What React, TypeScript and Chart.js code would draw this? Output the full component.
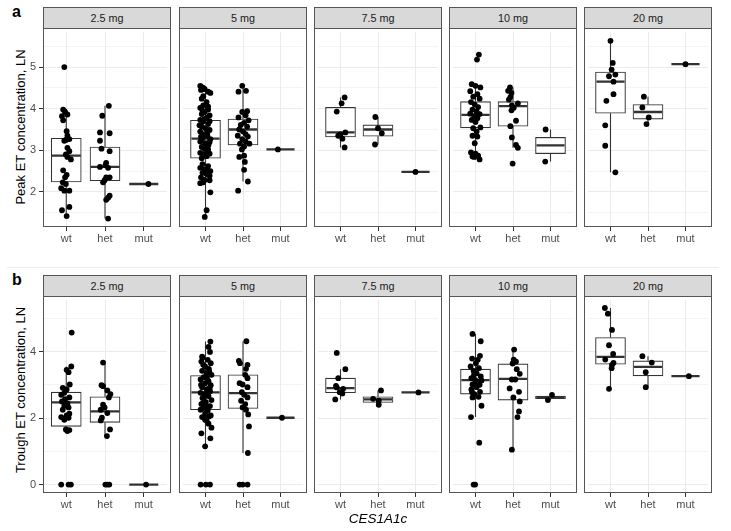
import React, { useEffect, useRef } from 'react';
import { Chart, registerables } from 'chart.js';

Chart.register(...registerables);

type Pt = [number, number]; // [horizontal jitter in category units, value]
type Box = [number, number, number, number, number]; // [whisker low, q1, median, q3, whisker high]

const DOSES = ['2.5 mg', '5 mg', '7.5 mg', '10 mg', '20 mg'];
const GENOTYPES = ['wt', 'het', 'mut'];
const X_AXIS_TITLE = 'CES1A1c';
const PEAK_TITLE = 'Peak ET concentration, LN';
const TROUGH_TITLE = 'Trough ET concentration, LN';

const PEAK_TICK_LABELS = [2, 3, 4, 5];
const TROUGH_TICK_LABELS = [0, 2, 4];
const PEAK_RANGE = [1.157, 5.843];
const TROUGH_RANGE = [-0.253, 5.55];
const PEAK_STEP = 0.5;
const TROUGH_STEP = 1;

// box statistics per dose, per genotype (wt, het, mut)
const PEAK_BOX: Box[][] = [
  [[1.42, 2.24, 2.87, 3.29, 4.0], [1.36, 2.27, 2.6, 3.08, 4.07], [2.19, 2.19, 2.19, 2.19, 2.19]],
  [[1.4, 2.81, 3.28, 3.72, 4.55], [2.25, 3.13, 3.5, 3.75, 4.55], [3.02, 3.02, 3.02, 3.02, 3.02]],
  [[3.07, 3.32, 3.43, 4.03, 4.27], [3.14, 3.34, 3.5, 3.61, 3.8], [2.48, 2.48, 2.48, 2.48, 2.48]],
  [[2.78, 3.54, 3.85, 4.17, 4.59], [3.06, 3.58, 4.06, 4.17, 4.51], [2.73, 2.92, 3.12, 3.31, 3.5]],
  [[2.47, 3.89, 4.65, 4.88, 5.63], [3.63, 3.75, 3.92, 4.1, 4.29], [5.07, 5.07, 5.07, 5.07, 5.07]],
];
const TROUGH_BOX: Box[][] = [
  [[1.61, 1.75, 2.47, 2.78, 3.55], [1.46, 1.87, 2.2, 2.64, 3.67], [0, 0, 0, 0, 0]],
  [[1.15, 2.25, 2.77, 3.28, 4.3], [0.95, 2.29, 2.75, 3.3, 4.31], [2.01, 2.01, 2.01, 2.01, 2.01]],
  [[2.56, 2.76, 2.9, 3.2, 3.47], [2.4, 2.47, 2.56, 2.64, 2.83], [2.77, 2.77, 2.77, 2.77, 2.77]],
  [[2.03, 2.72, 3.14, 3.47, 4.53], [1.05, 2.54, 3.18, 3.63, 4.06], [2.54, 2.58, 2.62, 2.66, 2.7]],
  [[2.88, 3.62, 3.84, 4.42, 5.31], [2.93, 3.27, 3.54, 3.72, 3.86], [3.26, 3.26, 3.26, 3.26, 3.26]],
];

// individual observations (jittered) per dose: [wt, het, mut]
const PEAK_2_5MG: Pt[][] = [
  [[-0.05, 5.0], [-0.08, 3.98], [-0.03, 3.92], [0.03, 3.86], [-0.11, 3.82], [-0.08, 3.72], [0.01, 3.46], [0.03, 3.35],
   [-0.01, 3.25], [0.08, 3.27], [-0.05, 3.23], [0.03, 3.06], [0.08, 2.98], [-0.01, 2.9], [0.03, 2.84], [0.12, 2.78],
   [-0.08, 2.52], [0.01, 2.41], [-0.03, 2.35], [-0.09, 2.23], [-0.01, 2.19], [-0.13, 2.09], [-0.05, 2.03], [0.08, 2.03],
   [0.08, 1.64], [-0.11, 1.56], [0.01, 1.42]],
  [[0.1, 4.07], [-0.07, 3.83], [-0.13, 3.43], [0.12, 3.41], [-0.13, 3.23], [-0.09, 3.04], [0.12, 2.98], [0.03, 2.7],
   [0.01, 2.64], [0.08, 2.58], [-0.13, 2.6], [0.12, 2.35], [0.03, 2.35], [-0.05, 2.23], [-0.01, 2.28], [0.12, 1.91],
   [0.08, 1.86], [0.03, 1.81], [0.08, 1.36]],
  [[0.12, 2.19]],
];
const PEAK_5MG: Pt[][] = [
  [[-0.14, 4.55], [-0.08, 4.51], [-0.02, 4.47], [0.07, 4.41], [0.13, 4.38], [-0.12, 4.45], [-0.1, 4.24], [0.03, 4.16],
   [-0.06, 4.08], [-0.14, 4.02], [0.07, 3.98], [-0.02, 3.92], [-0.1, 3.87], [0.11, 3.84], [0.03, 3.78], [-0.14, 3.73],
   [-0.06, 3.69], [0.07, 3.63], [-0.1, 3.57], [0, 3.53], [0.11, 3.49], [-0.14, 3.45], [-0.03, 3.39], [0.05, 3.35],
   [-0.08, 3.29], [0.13, 3.27], [-0.14, 3.21], [0, 3.17], [0.08, 3.13], [-0.1, 3.08], [-0.02, 3.03], [0.05, 2.98],
   [-0.14, 2.94], [-0.06, 2.9], [0.11, 2.92], [0.03, 2.86], [-0.1, 2.81], [0.07, 2.62], [-0.14, 2.58], [-0.02, 2.54],
   [0.13, 2.5], [-0.08, 2.46], [0.03, 2.43], [0.11, 2.39], [-0.12, 2.35], [-0.02, 2.29], [-0.14, 2.21], [-0.06, 2.23],
   [0.13, 1.99], [0.03, 1.56], [-0.02, 1.4], [-0.06, 4.3], [0.07, 4.05], [-0.08, 3.95], [-0.03, 3.75], [-0.16, 3.6],
   [0.11, 3.7], [0.05, 3.42], [-0.12, 3.33], [0.11, 3.2], [-0.05, 3.1], [0.07, 3.02], [0, 2.88], [-0.08, 2.67],
   [0.05, 2.55], [0.11, 2.28]],
  [[-0.02, 4.55], [-0.12, 4.41], [0.08, 4.43], [0.11, 3.94], [-0.02, 3.92], [0.07, 3.84], [-0.12, 3.79], [0.15, 3.72],
   [0.03, 3.66], [-0.06, 3.61], [0.11, 3.57], [-0.1, 3.5], [0, 3.45], [0.07, 3.39], [-0.14, 3.35], [0.13, 3.33],
   [-0.02, 3.27], [0.07, 3.21], [-0.08, 3.16], [0.17, 3.16], [0.03, 3.09], [-0.03, 3.02], [0.03, 2.87], [-0.1, 2.84],
   [0.05, 2.72], [0.03, 2.53], [0.13, 2.25], [-0.13, 2.03]],
  [[-0.07, 3.02]],
];
const PEAK_7_5MG: Pt[][] = [
  [[0.11, 4.27], [0.03, 4.13], [-0.1, 3.93], [0.13, 3.43], [0, 3.38], [-0.06, 3.35], [0.05, 3.28], [0.11, 3.07]],
  [[-0.07, 3.8], [0, 3.53], [0.1, 3.41], [-0.08, 3.14]],
  [[0, 2.48]],
];
const PEAK_10MG: Pt[][] = [
  [[0.09, 5.3], [0.04, 5.18], [-0.1, 4.59], [0, 4.55], [0.13, 4.51], [-0.14, 4.42], [0.05, 4.35], [-0.06, 4.29],
   [0.11, 4.24], [-0.12, 4.16], [-0.02, 4.1], [0.07, 4.04], [-0.08, 3.98], [0.03, 3.93], [-0.14, 3.88], [0.11, 3.87],
   [-0.03, 3.82], [0.05, 3.77], [-0.1, 3.73], [0, 3.68], [0.13, 3.55], [-0.06, 3.53], [0.03, 3.45], [-0.08, 3.35],
   [0.05, 3.33], [-0.02, 3.17], [-0.12, 2.95], [0, 2.92], [0.07, 2.87], [-0.03, 2.84], [0.11, 2.78], [-0.08, 2.85]],
  [[-0.08, 4.51], [-0.13, 4.43], [-0.04, 4.38], [-0.07, 4.28], [-0.11, 4.22], [0.13, 4.13], [-0.03, 4.08], [0.02, 4.02],
   [-0.04, 3.96], [0.08, 3.71], [-0.07, 3.58], [-0.03, 3.31], [0.08, 3.13], [0.13, 3.06], [-0.01, 2.68]],
  [[-0.13, 3.5], [-0.14, 2.73]],
];
const PEAK_20MG: Pt[][] = [
  [[0, 5.63], [0.06, 5.1], [0.03, 4.94], [0.13, 4.82], [-0.04, 4.78], [0.08, 4.65], [0.08, 4.35], [-0.11, 4.19],
   [-0.14, 3.6], [-0.14, 3.11], [0.13, 2.47]],
  [[-0.11, 4.29], [-0.15, 4.03], [0.02, 3.79], [-0.04, 3.63]],
  [[0, 5.07]],
];

const TROUGH_2_5MG: Pt[][] = [
  [[0.14, 4.57], [0.13, 3.55], [0.01, 3.45], [0.06, 3.38], [0.09, 3.01], [-0.09, 2.91], [0.01, 2.86], [-0.05, 2.76],
   [-0.13, 2.7], [0.08, 2.62], [-0.03, 2.57], [-0.11, 2.5], [0.03, 2.44], [-0.05, 2.37], [0.06, 2.32], [-0.09, 2.25],
   [0.08, 2.13], [0.01, 2.08], [-0.13, 2.03], [-0.05, 1.95], [0.06, 2.01], [-0.01, 1.66], [0.08, 1.64], [0.03, 1.61],
   [-0.13, 0], [0.06, 0], [0.12, 0]],
  [[-0.05, 3.67], [-0.09, 2.99], [-0.05, 2.96], [0.06, 2.83], [0.14, 2.72], [0.1, 2.62], [-0.05, 2.4], [-0.01, 2.32],
   [-0.11, 2.25], [0.06, 2.15], [-0.08, 2.01], [-0.11, 1.93], [0.13, 1.66], [0.05, 1.46], [0.01, 0], [0.06, 0], [0.11, 0]],
  [[0.06, 0]],
];
const TROUGH_5MG: Pt[][] = [
  [[0.13, 4.3], [0.08, 4.14], [0.12, 3.99], [-0.08, 3.81], [0.06, 3.75], [-0.11, 3.7], [0.14, 3.65], [-0.01, 3.55],
   [0.09, 3.48], [-0.09, 3.42], [0.03, 3.35], [0.16, 3.3], [-0.05, 3.23], [-0.13, 3.16], [0.08, 3.11], [-0.01, 3.05],
   [0.14, 2.99], [-0.09, 2.93], [0.03, 2.87], [0.12, 2.81], [-0.13, 2.76], [-0.03, 2.72], [0.08, 2.66], [-0.08, 2.6],
   [0.16, 2.54], [0.01, 2.48], [-0.11, 2.42], [0.12, 2.36], [-0.05, 2.3], [0.06, 2.23], [-0.01, 2.13], [0.14, 2.08],
   [-0.09, 2.03], [0.03, 1.93], [0.08, 1.83], [0.16, 1.71], [-0.11, 1.54], [0.13, 1.39], [-0.01, 1.15], [-0.13, 0],
   [0.01, 0], [0.12, 0], [-0.06, 3.6], [0.04, 3.2], [0.11, 2.9], [-0.04, 2.62], [0.03, 2.35], [-0.13, 2.25],
   [0.09, 2.05], [-0.01, 1.95], [-0.09, 3.85], [0.1, 3.4], [-0.12, 3.0], [0.05, 2.7], [-0.07, 2.45]],
  [[0.09, 4.31], [-0.11, 3.72], [-0.08, 3.65], [0.12, 3.6], [0.08, 3.48], [0.06, 3.3], [0.12, 3.2], [-0.09, 3.05],
   [-0.01, 3.01], [0.12, 2.93], [-0.03, 2.78], [0.03, 2.7], [0.12, 2.62], [-0.05, 2.52], [0.06, 2.42], [-0.01, 2.32],
   [0.08, 2.25], [0.14, 2.11], [0.16, 1.75], [0.13, 0.95], [-0.09, 0], [-0.01, 0], [0.12, 0]],
  [[0.04, 2.01]],
];
const TROUGH_7_5MG: Pt[][] = [
  [[-0.1, 3.96], [0.13, 3.47], [-0.06, 3.2], [-0.12, 2.97], [0.07, 2.88], [-0.02, 2.78], [0.05, 2.74], [-0.1, 2.92],
   [-0.14, 2.56]],
  [[0.08, 2.83], [-0.13, 2.58], [0.02, 2.52], [0.02, 2.4]],
  [[0.08, 2.77]],
];
const TROUGH_10MG: Pt[][] = [
  [[-0.08, 4.53], [0.14, 4.31], [0.12, 3.87], [-0.09, 3.79], [0.06, 3.75], [0.01, 3.65], [-0.13, 3.55], [0.09, 3.5],
   [-0.05, 3.42], [0.03, 3.35], [0.14, 3.25], [-0.11, 3.2], [-0.01, 3.15], [0.08, 3.09], [-0.08, 3.01], [0.16, 3.13],
   [0.03, 2.93], [-0.11, 2.86], [0.12, 2.79], [-0.03, 2.72], [0.08, 2.64], [-0.08, 2.62], [0.16, 2.37], [-0.12, 2.03],
   [0.1, 1.26], [-0.05, 0], [-0.01, 0], [-0.04, 3.3], [0.03, 3.05], [0.11, 3.0], [-0.09, 2.78]],
  [[0.03, 4.06], [0.02, 3.76], [0.08, 3.7], [-0.01, 3.64], [0.1, 3.47], [0.18, 3.33], [0.06, 3.16], [-0.03, 3.16],
   [-0.09, 2.89], [0.16, 2.79], [0.01, 2.62], [0.18, 2.5], [0.16, 2.2], [0.12, 2.03], [-0.03, 1.05]],
  [[0.04, 2.7], [-0.07, 2.54]],
];
const TROUGH_20MG: Pt[][] = [
  [[-0.15, 5.31], [-0.07, 5.14], [0.04, 4.65], [-0.04, 4.19], [0.07, 3.93], [-0.14, 3.76], [0.08, 3.66], [0.04, 3.6],
   [0.03, 3.5], [-0.04, 2.88]],
  [[-0.15, 3.86], [0.1, 3.67], [-0.06, 3.38], [-0.06, 2.93]],
  [[0.09, 3.26]],
];

const PEAK_POINTS = [PEAK_2_5MG, PEAK_5MG, PEAK_7_5MG, PEAK_10MG, PEAK_20MG];
const TROUGH_POINTS = [TROUGH_2_5MG, TROUGH_5MG, TROUGH_7_5MG, TROUGH_10MG, TROUGH_20MG];

// ---------- layout / style ----------
const FONT = "'Liberation Sans', Arial, Helvetica, sans-serif";
const COL_LEFT = [43, 179, 314, 449, 584];
const PANEL_W = 128;
const ROWS = [
  { panelTop: 28, panelH: 199 },
  { panelTop: 296, panelH: 197 },
];
const Y_AXIS_W = 20;
const X_AXIS_H = 20;
const X_MIN = 0.4;
const X_MAX = 3.6;
const BOX_W = 0.75;
const INK = '#333333';
const GRID = '#ebebeb';

interface PanelProps {
  left: number;
  top: number;
  height: number;
  showY: boolean;
  boxes: Box[];
  points: Pt[][];
  range: number[];
  step: number;
  labelled: number[];
}

function near(v: number, list: number[]) {
  return list.some((l) => Math.abs(l - v) < 1e-6);
}

function Panel({ left, top, height, showY, boxes, points, range, step, labelled }: PanelProps) {
  const ref = useRef<HTMLCanvasElement>(null);
  const cw = PANEL_W + (showY ? Y_AXIS_W : 0);
  const ch = height + X_AXIS_H;

  useEffect(() => {
    if (!ref.current) return;
    const half = BOX_W / 2;
    const whisk: any[] = [];
    const meds: any[] = [];
    const bars: any[] = [];
    const dots: any[] = [];
    boxes.forEach((b, i) => {
      const c = i + 1;
      whisk.push({ x: c, y: b[0] }, { x: c, y: b[1] }, { x: c, y: null }, { x: c, y: b[3] }, { x: c, y: b[4] }, { x: c, y: null });
      meds.push({ x: c - half, y: b[2] }, { x: c + half, y: b[2] }, { x: c, y: null });
      bars.push({ x: c, y: [b[1], b[3]] });
      points[i].forEach(([dx, v]) => dots.push({ x: c + dx, y: v }));
    });
    const barPx = (BOX_W * PANEL_W) / (X_MAX - X_MIN);
    const zeroPad = (s: any) => {
      s.paddingTop = 0;
      s.paddingBottom = 0;
      s.paddingLeft = 0;
      s.paddingRight = 0;
    };

    const chart = new Chart(ref.current, {
      type: 'scatter',
      data: {
        datasets: [
          { type: 'line', data: whisk, borderColor: INK, borderWidth: 1.1, pointRadius: 0, spanGaps: false, order: 4 } as any,
          {
            type: 'bar',
            data: bars,
            backgroundColor: '#ffffff',
            borderColor: INK,
            borderWidth: 1.1,
            borderSkipped: false,
            barThickness: barPx,
            grouped: false,
            order: 3,
          } as any,
          { type: 'line', data: meds, borderColor: INK, borderWidth: 2.3, pointRadius: 0, spanGaps: false, borderCapStyle: 'butt', order: 2 } as any,
          { type: 'scatter', data: dots, backgroundColor: '#000000', pointRadius: 2.9, pointBorderWidth: 0, borderWidth: 0, order: 1 } as any,
        ],
      },
      options: {
        animation: false,
        responsive: false,
        maintainAspectRatio: false,
        devicePixelRatio: 1,
        layout: { padding: 0 },
        events: [],
        plugins: { legend: { display: false }, tooltip: { enabled: false }, title: { display: false } },
        scales: {
          x: {
            type: 'linear',
            min: X_MIN,
            max: X_MAX,
            offset: false,
            border: { display: false },
            grid: { color: GRID, lineWidth: 1, drawTicks: true, tickLength: 4, tickColor: INK, offset: false },
            ticks: {
              stepSize: 1,
              includeBounds: false,
              autoSkip: false,
              maxRotation: 0,
              padding: 1,
              color: '#4d4d4d',
              font: { family: FONT, size: 11 },
              callback: (v: any) => GENOTYPES[Math.round(Number(v)) - 1] ?? '',
            },
            afterFit: (s: any) => {
              s.height = X_AXIS_H;
              zeroPad(s);
            },
          } as any,
          y: {
            type: 'linear',
            min: range[0],
            max: range[1],
            border: { display: false },
            grid: {
              color: GRID,
              lineWidth: (ctx: any) => (near(ctx.tick?.value, labelled) ? 1 : 0.55),
              drawTicks: showY,
              tickLength: showY ? 4 : 0,
              tickColor: (ctx: any) => (near(ctx.tick?.value, labelled) ? INK : 'rgba(0,0,0,0)'),
            },
            ticks: {
              display: showY,
              stepSize: step,
              includeBounds: false,
              autoSkip: false,
              padding: 3,
              color: '#4d4d4d',
              font: { family: FONT, size: 11 },
              callback: (v: any) => (near(Number(v), labelled) ? String(Math.round(Number(v))) : ''),
            },
            afterFit: (s: any) => {
              s.width = showY ? Y_AXIS_W : 0;
              zeroPad(s);
            },
          } as any,
        },
      } as any,
    });
    return () => chart.destroy();
  }, []);

  return (
    <canvas
      ref={ref}
      width={cw}
      height={ch}
      style={{ position: 'absolute', left: left - (showY ? Y_AXIS_W : 0), top, width: cw, height: ch }}
    />
  );
}

export default function App() {
  const rowsData = [
    { boxes: PEAK_BOX, points: PEAK_POINTS, range: PEAK_RANGE, step: PEAK_STEP, labelled: PEAK_TICK_LABELS },
    { boxes: TROUGH_BOX, points: TROUGH_POINTS, range: TROUGH_RANGE, step: TROUGH_STEP, labelled: TROUGH_TICK_LABELS },
  ];
  const titles = [
    { text: PEAK_TITLE, cy: 127, tag: 'a', tagTop: 3 },
    { text: TROUGH_TITLE, cy: 390, tag: 'b', tagTop: 271 },
  ];
  return (
    <div style={{ position: 'absolute', left: 0, top: 0, width: 731, height: 531, background: '#ffffff', overflow: 'hidden', fontFamily: FONT }}>
      <div style={{ position: 'absolute', left: 7, top: 267, width: 712, height: 1, background: '#ececec' }} />
      {ROWS.map((row, r) => (
        <React.Fragment key={r}>
          <div style={{ position: 'absolute', left: 12, top: titles[r].tagTop, fontSize: 16, fontWeight: 'bold', lineHeight: '18px', color: '#000' }}>
            {titles[r].tag}
          </div>
          <div
            style={{
              position: 'absolute',
              left: 20,
              top: titles[r].cy,
              transform: 'translate(-50%, -50%) rotate(-90deg)',
              whiteSpace: 'nowrap',
              fontSize: 13,
              lineHeight: '15px',
              color: '#000',
            }}
          >
            {titles[r].text}
          </div>
          {DOSES.map((dose, c) => (
            <React.Fragment key={dose}>
              <Panel
                left={COL_LEFT[c]}
                top={row.panelTop}
                height={row.panelH}
                showY={c === 0}
                boxes={rowsData[r].boxes[c]}
                points={rowsData[r].points[c]}
                range={rowsData[r].range}
                step={rowsData[r].step}
                labelled={rowsData[r].labelled}
              />
              <div
                style={{
                  position: 'absolute',
                  left: COL_LEFT[c],
                  top: row.panelTop,
                  width: PANEL_W,
                  height: row.panelH,
                  border: '1px solid #555',
                  boxSizing: 'border-box',
                  pointerEvents: 'none',
                }}
              />
              <div
                style={{
                  position: 'absolute',
                  left: COL_LEFT[c],
                  top: row.panelTop - 21,
                  width: PANEL_W,
                  height: 22,
                  background: '#d9d9d9',
                  border: '1px solid #555',
                  boxSizing: 'border-box',
                  textAlign: 'center',
                  fontSize: 10.8,
                  lineHeight: '20px',
                  color: '#1a1a1a',
                }}
              >
                {dose}
              </div>
            </React.Fragment>
          ))}
        </React.Fragment>
      ))}
      <div
        style={{
          position: 'absolute',
          left: 378,
          top: 512,
          transform: 'translateX(-50%)',
          fontStyle: 'italic',
          fontSize: 13.5,
          lineHeight: '14px',
          color: '#000',
          whiteSpace: 'nowrap',
        }}
      >
        {X_AXIS_TITLE}
      </div>
    </div>
  );
}
